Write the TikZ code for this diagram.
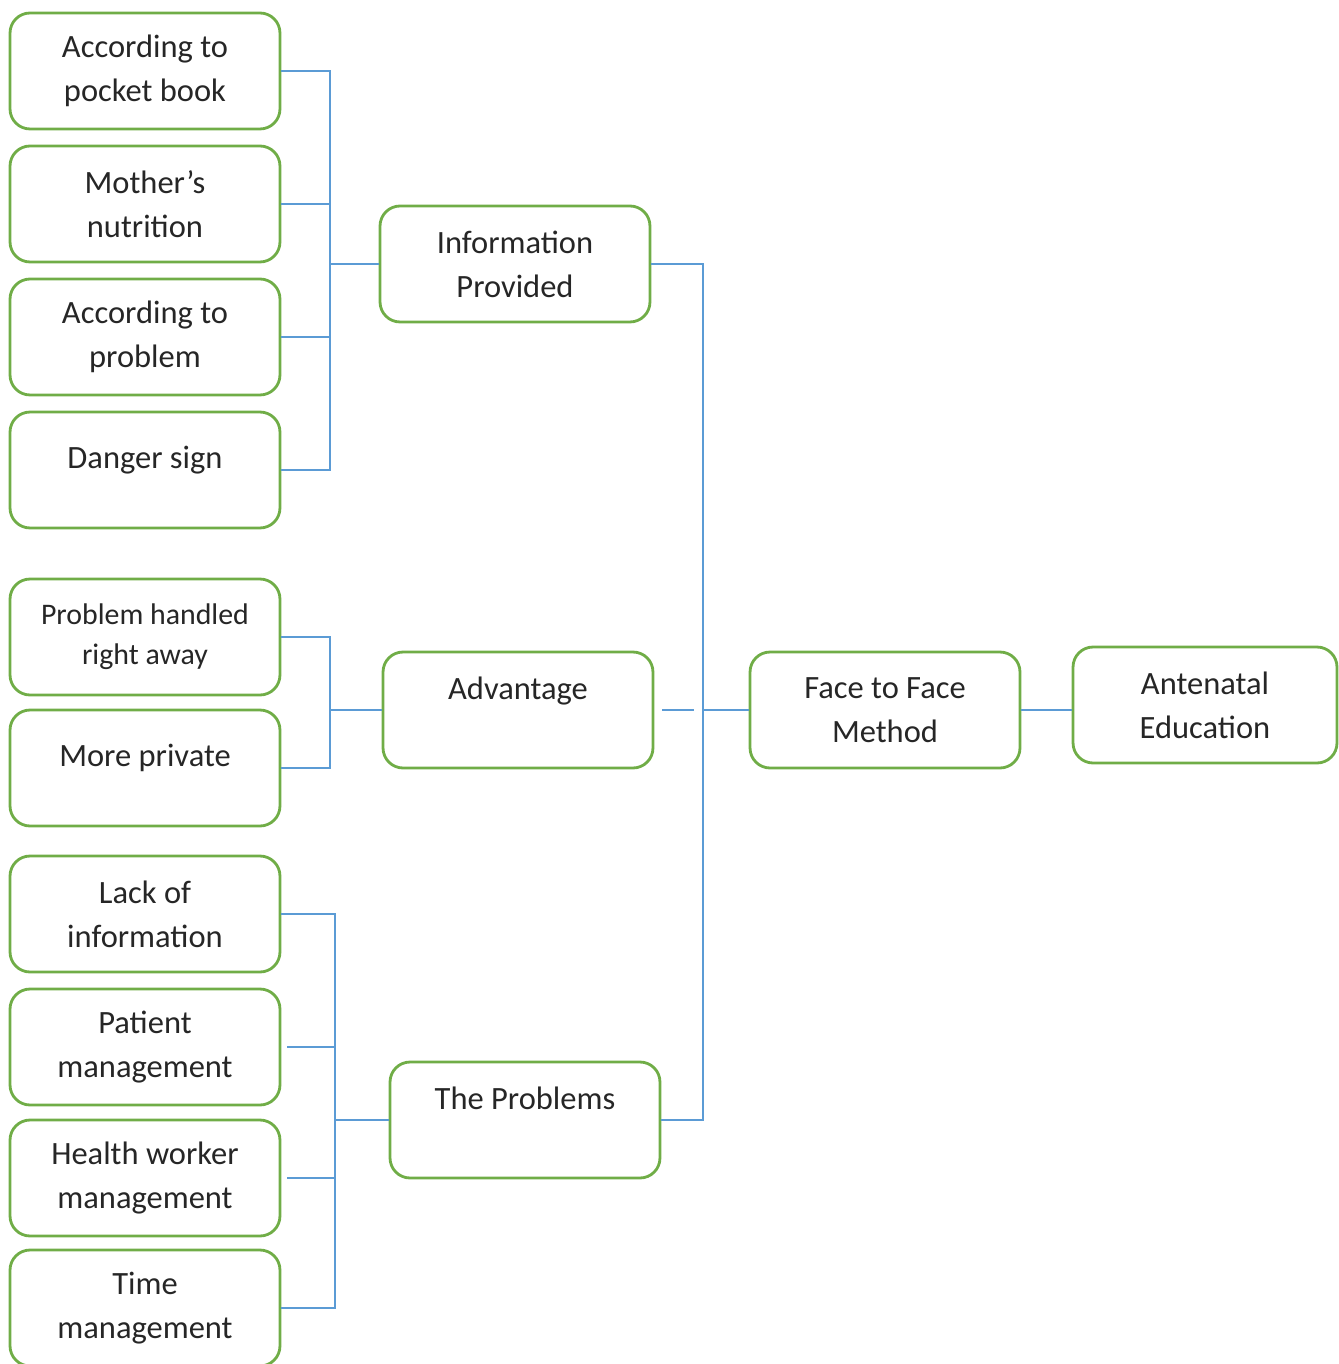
\documentclass[tikz,border=0pt]{standalone}
\usepackage{fontspec}
\setmainfont{Carlito}
\definecolor{boxgreen}{HTML}{70AD47}
\definecolor{linkblue}{HTML}{5B9BD5}
\tikzset{
  item/.style={draw=boxgreen, line width=1.6pt, rounded corners=0.4cm,
    minimum width=5.4cm, minimum height=2.32cm, inner sep=2pt, align=center,
    text=black!85, font=\fontsize{18.5}{25}\selectfont},
  link/.style={draw=linkblue, line width=1.6pt},
}
\begin{document}
\begin{tikzpicture}[x=0.02cm, y=-0.02cm]
\useasboundingbox (0,0) rectangle (1338,1364);
% left column
\node[item] (pocket) at (145,71) {According to\\pocket book};
\node[item] (nutri) at (145,204) {Mother's\\nutrition};
\node[item] (probl) at (145,337) {According to\\problem};
\node[item] (danger) at (145,470) {Danger sign\\[-11pt]\mbox{}};
\node[item, font=\fontsize{17}{22.7}\selectfont] (handled) at (145,637) {Problem handled\\right away};
\node[item] (private) at (145,768) {More private\\[-11pt]\mbox{}};
\node[item] (lack) at (145,914) {Lack of\\information};
\node[item] (patient) at (145,1047) {Patient\\management};
\node[item] (worker) at (145,1178) {Health worker\\management};
\node[item] (time) at (145,1308) {Time\\management};
% middle column
\node[item] (info) at (515,264) {Information\\Provided};
\node[item] (adv) at (518,710) {Advantage\\\mbox{}};
\node[item] (prob) at (525,1120) {The Problems\\\mbox{}};
% right
\node[item] (ftf) at (885,710) {Face to Face\\Method};
\node[item, minimum width=5.28cm] (ante) at (1205,705) {Antenatal\\Education};
% buses
\coordinate (busa) at (330,0);
\coordinate (busb) at (330,0);
\coordinate (busc) at (335,0);
\coordinate (busm) at (703,0);
% information provided
\draw[link] (pocket.east) -- (pocket.east -| busa) |- (info.west);
\draw[link] (nutri.east) -- (nutri.east -| busa) |- (info.west);
\draw[link] (probl.east) -- (probl.east -| busa) |- (info.west);
\draw[link] (danger.east) -- (danger.east -| busa) |- (info.west);
% advantage
\draw[link] (handled.east) -- (handled.east -| busb) |- (adv.west);
\draw[link] (private.east) -- (private.east -| busb) |- (adv.west);
% problems
\draw[link] (lack.east) -- (lack.east -| busc) |- (prob.west);
\draw[link, shorten <=0.12cm] (patient.east) -- (patient.east -| busc);
\draw[link, shorten <=0.12cm] (worker.east) -- (worker.east -| busc);
\draw[link] (time.east) -- (time.east -| busc) |- (prob.west);
% main
\draw[link] (info.east) -- (info.east -| busm) |- (prob.east);
\draw[link, shorten <=0.16cm, shorten >=0.18cm] (adv.east) -- (adv.east -| busm);
\draw[link] (busm |- ftf.west) -- (ftf.west);
\draw[link] (ftf.east) -- (ftf.east -| ante.west);
\end{tikzpicture}
\end{document}
